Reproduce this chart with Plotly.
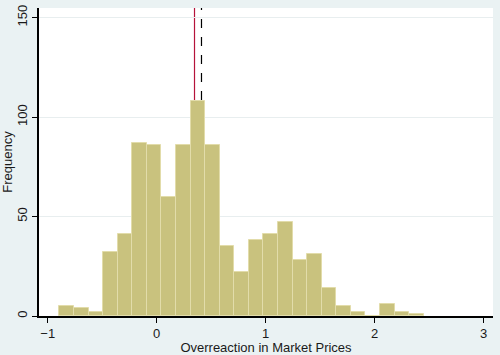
import plotly.graph_objects as go

# Data
bin_start = -0.892
bin_width = 0.1337
counts = [5, 4, 2, 32, 41, 87, 86, 60, 86, 108, 86, 35, 22, 38, 41, 47, 28, 31, 14, 5, 2, 0, 6, 2, 1]
red_line_x = 0.347
dash_line_x = 0.411
x_ticks = [-1, 0, 1, 2, 3]
y_ticks = [0, 50, 100, 150]

centers = [bin_start + bin_width * (i + 0.5) for i in range(len(counts))]

fig = go.Figure()
fig.add_trace(go.Bar(
    x=centers, y=counts, width=bin_width,
    marker=dict(color="#C9C27E", line=dict(color="#E2DCAA", width=1)),
    showlegend=False, hoverinfo="skip",
))

fig.add_shape(type="line", xref="x", yref="paper", x0=red_line_x, x1=red_line_x, y0=0, y1=1,
              line=dict(color="#B5123A", width=1.2), layer="below")
fig.add_shape(type="line", xref="x", yref="paper", x0=dash_line_x, x1=dash_line_x, y0=0, y1=1,
              line=dict(color="black", width=1.2, dash="dash"), layer="below")

font = dict(family="Liberation Sans, Arial, sans-serif", size=13, color="#1a1a1a")

fig.update_layout(
    width=500, height=355,
    margin=dict(l=39, r=7, t=5, b=37),
    paper_bgcolor="#EAF2F3",
    plot_bgcolor="white",
    font=font,
    bargap=0,
    xaxis=dict(
        range=[-1.080, 3.086], tickvals=x_ticks, ticktext=["\u22121", "0", "1", "2", "3"],
        showgrid=False, zeroline=False, showline=True, linecolor="black", linewidth=1.5,
        ticks="outside", ticklen=5, tickcolor="black",
        title=dict(text="Overreaction in Market Prices", standoff=0, font=font),
        tickfont=font,
    ),
    yaxis=dict(
        range=[0, 154.8], tickvals=y_ticks, tickangle=-90,
        showgrid=True, gridcolor="#E8EEEF", gridwidth=1, zeroline=False,
        showline=True, linecolor="black", linewidth=1.5,
        ticks="outside", ticklen=5, tickcolor="black",
        title=dict(text="Frequency", standoff=0, font=font),
        tickfont=font,
    ),
)

fig.write_html("out.html")
